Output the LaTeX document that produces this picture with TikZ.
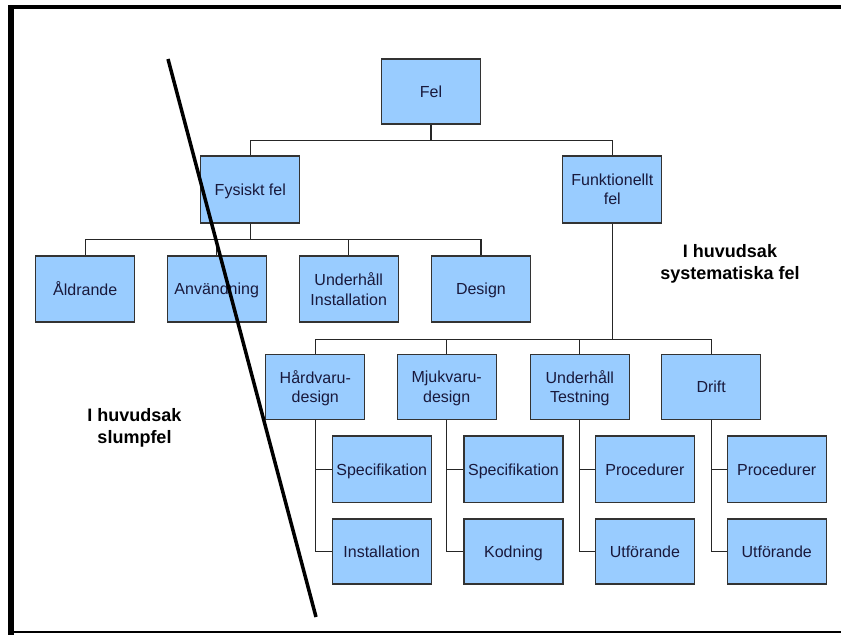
\documentclass[tikz,border=0pt]{standalone}
\usepackage{fontspec}
\setmainfont{Liberation Sans}
\definecolor{boxfill}{HTML}{99CCFF}
\definecolor{boxline}{HTML}{333333}
\definecolor{boxtext}{RGB}{25,25,60}
\tikzset{
  fbox/.style={draw=boxline, line width=1.3pt, fill=boxfill, text=boxtext,
    minimum width=99pt, minimum height=66pt, inner sep=0pt, align=center,
    text depth=0pt, font=\fontsize{16}{19.3}\selectfont},
  link/.style={draw=black!85, line width=1.2pt},
  zone/.style={align=center, font=\bfseries\fontsize{18}{21.8}\selectfont},
  frame/.style={draw=black},
}
\begin{document}
\begin{tikzpicture}[x=1pt,y=-1pt]
\useasboundingbox (0,0) rectangle (841,635);

% outer frame (top, left, bottom)
\coordinate (ftl) at (8,7);
\coordinate (ftr) at (841,7);
\coordinate (flt) at (11,5);
\coordinate (flb) at (11,635);
\coordinate (fbl) at (14,632);
\coordinate (fbr) at (841,632);
\draw[frame, line width=4.5pt] (ftl) -- (ftr);
\draw[frame, line width=6pt] (flt) -- (flb);
\draw[frame, line width=1.2pt] (fbl) -- (fbr);

% root and first level
\node[fbox, minimum height=65pt] (fel) at (431,91.5) {Fel};
\node[fbox, minimum height=67pt] (fys) at (250.3,189.5) {Fysiskt fel};
\node[fbox, minimum height=67pt] (fun) at (612.3,189.5) {Funktionellt\\fel};

% physical faults
\node[fbox] (ald) at (85.2,289) {Åldrande};
\node[fbox] (anv) at (216.7,289) {Användning};
\node[fbox] (uhi) at (348.7,289) {Underhåll\\Installation};
\node[fbox] (des) at (480.9,289) {Design};

% functional faults
\node[fbox, minimum height=65pt] (hw) at (315.3,386.8) {Hårdvaru-\\design};
\node[fbox, minimum height=65pt] (mw) at (446.7,386.8) {Mjukvaru-\\design};
\node[fbox, minimum height=65pt] (ut) at (579.8,386.8) {Underhåll\\Testning};
\node[fbox, minimum height=65pt] (dr) at (711.2,386.8) {Drift};

% leaves
\node[fbox, minimum height=66.7pt] (hs) at (381.7,469.3) {Specifikation};
\node[fbox, minimum height=65pt]   (hi) at (381.7,551.5) {Installation};
\node[fbox, minimum height=66.7pt] (ms) at (513.5,469.3) {Specifikation};
\node[fbox, minimum height=65pt]   (mk) at (513.5,551.5) {Kodning};
\node[fbox, minimum height=66.7pt] (tp) at (644.9,469.3) {Procedurer};
\node[fbox, minimum height=65pt]   (tu) at (644.9,551.5) {Utförande};
\node[fbox, minimum height=66.7pt] (dp) at (776.7,469.3) {Procedurer};
\node[fbox, minimum height=65pt]   (du) at (776.7,551.5) {Utförande};

% tree connectors
\draw[link] (fel.south) -- ++(0,16) coordinate (j1);
\draw[link] (j1) -| (fys.north);
\draw[link] (j1) -| (fun.north);

\draw[link] (fys.south) -- ++(0,16) coordinate (j2);
\foreach \n in {ald,anv,uhi,des} \draw[link] (j2) -| (\n.north);

\draw[link] (fun.south) -- ++(0,116) coordinate (j3);
\foreach \n in {hw,mw,ut,dr} \draw[link] (j3) -| (\n.north);

\foreach \p/\a/\b in {hw/hs/hi, mw/ms/mk, ut/tp/tu, dr/dp/du} {
  \draw[link] (\p.south) |- (\a.west);
  \draw[link] (\p.south) |- (\b.west);
}

% zone labels
\node[zone] (sys) at (730,264) {I huvudsak\\systematiska fel};
\node[zone] (slu) at (134.5,428) {I huvudsak\\slumpfel};

% dividing stroke
\coordinate (d1) at (168,59);
\coordinate (d2) at (316,617);
\draw[line width=3.5pt] (d1) -- (d2);
\end{tikzpicture}
\end{document}
